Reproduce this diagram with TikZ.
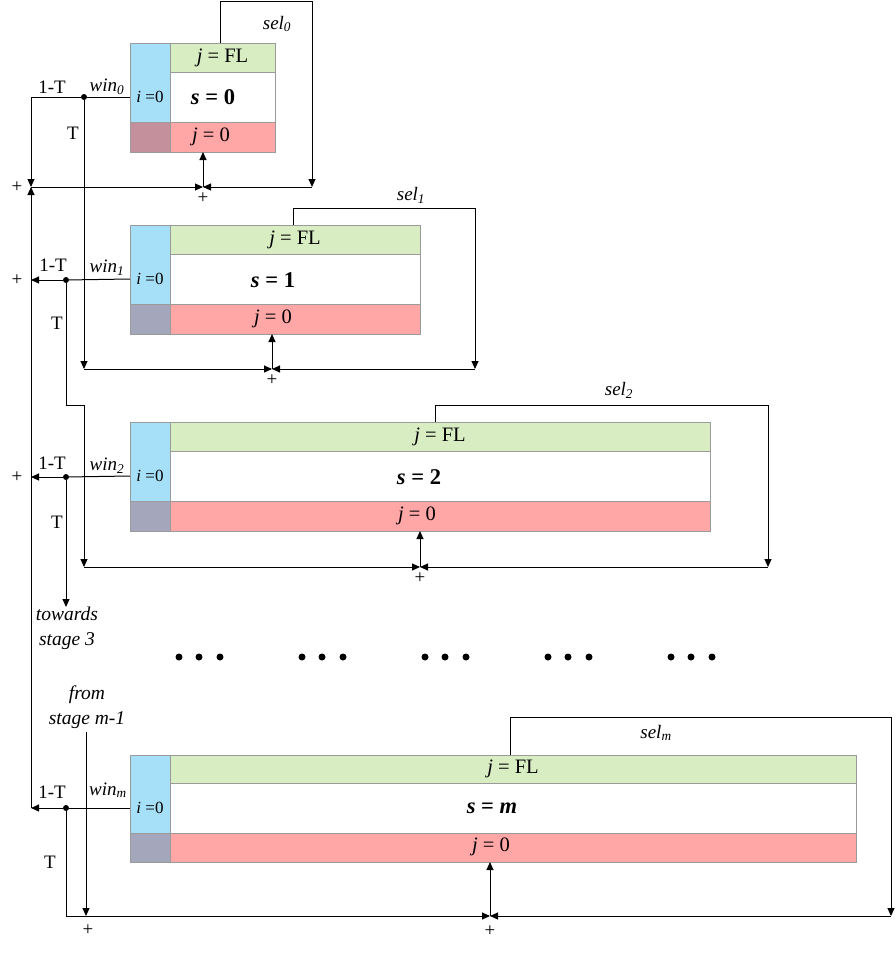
\documentclass[tikz,border=0pt]{standalone}
\usepackage{fontspec}
\setmainfont{Liberation Serif}
\usetikzlibrary{arrows.meta}
\definecolor{BlueClr}{RGB}{166,224,248}
\definecolor{GreenClr}{RGB}{216,237,194}
\definecolor{RedClr}{RGB}{255,166,166}
\definecolor{CornerClr}{RGB}{196,144,155}
\definecolor{GreyClr}{RGB}{164,166,188}
\definecolor{EdgeClr}{RGB}{155,155,155}

\begin{document}
\begin{tikzpicture}[x=1pt,y=-1pt,
  cell/.style={draw=EdgeClr,line width=0.8pt,inner sep=0pt,outer sep=0pt,anchor=north west,font=\fontsize{20.5}{22}\selectfont},
  wire/.style={line width=1pt},
  arr/.style={wire,-{Triangle[length=8pt,width=7pt]}},
  txt/.style={inner sep=0pt,font=\fontsize{19}{22}\selectfont},
  eq/.style={inner sep=0pt,font=\fontsize{20.5}{22}\selectfont},
  stg/.style={inner sep=0pt,font=\fontsize{22.5}{24}\selectfont\bfseries},
  idx/.style={inner sep=0pt,font=\fontsize{17}{20}\selectfont},
  pls/.style={inner sep=0pt,font=\fontsize{19}{20}\selectfont},
  knot/.style={circle,fill,inner sep=0pt,minimum size=6pt}]
\useasboundingbox (0,0) rectangle (896,953);

% stage 0
\node[cell,fill=BlueClr,minimum width=40,minimum height=79] (b0) at (130,43) {};
\node[cell,fill=CornerClr,minimum width=40,minimum height=30] (c0) at (b0.south west) {};
\node[cell,fill=GreenClr,minimum width=105,minimum height=29] (g0) at (b0.north east) {\textit{j} = FL};
\node[cell,fill=white,minimum width=105,minimum height=50] (w0) at (g0.south west) {};
\node[cell,fill=RedClr,minimum width=105,minimum height=30] (r0) at (w0.south west) {};
\node[idx] (i0) at (b0.center |- w0.center) {\textit{i} =0};
\node[stg] (s0) at (213,97) {\textit{s} = 0};
\node[eq] (z0) at (211,137) {\textit{j} = 0};

\coordinate (win0) at (b0.west |- w0.center);
\node[knot] (d0) at (84,97) {};
\coordinate (p0) at (31,187);
\coordinate (jn0) at (203,187);
\coordinate (q0) at (312,187);
\coordinate (t0) at (220,43);
\coordinate (p1) at (84,369);

\draw[wire] (win0) -- (d0);
\draw[arr] (d0) -| (p0);
\draw[arr] (d0) -- (p1);
\draw[arr] (t0) -- (220,1) -| (q0);
\draw[arr] (q0) -- (jn0);
\draw[arr] (p0) -- (jn0);
\draw[arr] (jn0) -- (r0.south -| jn0);

\node[txt] (n0) at (52,87) {1-T};
\node[txt] (v0) at (107,87) {\textit{win}\textsubscript{\textit{0}}};
\node[txt] (tt0) at (73,133) {T};
\node[txt] (l0) at (277,24) {\textit{sel}\textsubscript{\textit{0}}};
\node[pls] (a0) at (17,187) {+};
\node[pls] (e0) at (203,198) {+};

% stage 1
\node[cell,fill=BlueClr,minimum width=40,minimum height=79] (b1) at (130,225) {};
\node[cell,fill=GreyClr,minimum width=40,minimum height=30] (c1) at (b1.south west) {};
\node[cell,fill=GreenClr,minimum width=250,minimum height=29] (g1) at (b1.north east) {\textit{j} = FL};
\node[cell,fill=white,minimum width=250,minimum height=50] (w1) at (g1.south west) {};
\node[cell,fill=RedClr,minimum width=250,minimum height=30] (r1) at (w1.south west) {};
\node[idx] (i1) at (b1.center |- w1.center) {\textit{i} =0};
\node[stg] (s1) at (273,280) {\textit{s} = 1};
\node[eq] (z1) at (273,319) {\textit{j} = 0};

\coordinate (win1) at (b1.west |- w1.center);
\node[knot] (d1) at (66,280) {};
\coordinate (jn1) at (272,369);
\coordinate (q1) at (475,369);
\coordinate (t1) at (293,225);
\coordinate (p2) at (84,567);

\draw[wire] (win1) -- (d1);
\draw[arr] (d1) -- (d1 -| p0);
\draw[arr] (d1) -- (66,405) -- (84,405) -- (p2);
\draw[arr] (t1) -- (293,208) -| (q1);
\draw[arr] (q1) -- (jn1);
\draw[arr] (p1) -- (jn1);
\draw[arr] (jn1) -- (r1.south -| jn1);

\node[txt] (n1) at (53,265) {1-T};
\node[txt] (v1) at (107,268) {\textit{win}\textsubscript{\textit{1}}};
\node[txt] (tt1) at (57,323) {T};
\node[txt] (l1) at (411,195) {\textit{sel}\textsubscript{\textit{1}}};
\node[pls] (a1) at (17,280) {+};
\node[pls] (e1) at (272,380) {+};

% stage 2
\node[cell,fill=BlueClr,minimum width=40,minimum height=79] (b2) at (130,422) {};
\node[cell,fill=GreyClr,minimum width=40,minimum height=30] (c2) at (b2.south west) {};
\node[cell,fill=GreenClr,minimum width=540,minimum height=29] (g2) at (b2.north east) {\textit{j} = FL};
\node[cell,fill=white,minimum width=540,minimum height=50] (w2) at (g2.south west) {};
\node[cell,fill=RedClr,minimum width=540,minimum height=30] (r2) at (w2.south west) {};
\node[idx] (i2) at (b2.center |- w2.center) {\textit{i} =0};
\node[stg] (s2) at (419,477) {\textit{s} = 2};
\node[eq] (z2) at (417,516) {\textit{j} = 0};

\coordinate (win2) at (b2.west |- w2.center);
\node[knot] (d2) at (66,477) {};
\coordinate (jn2) at (420,567);
\coordinate (q2) at (768,567);
\coordinate (t2) at (435,422);
\coordinate (tw) at (66,607);

\draw[wire] (win2) -- (d2);
\draw[arr] (d2) -- (d2 -| p0);
\draw[arr] (d2) -- (tw);
\draw[arr] (t2) -- (435,405) -| (q2);
\draw[arr] (q2) -- (jn2);
\draw[arr] (p2) -- (jn2);
\draw[arr] (jn2) -- (r2.south -| jn2);

\node[txt] (n2) at (52,463) {1-T};
\node[txt] (v2) at (107,466) {\textit{win}\textsubscript{\textit{2}}};
\node[txt] (tt2) at (57,522) {T};
\node[txt] (l2) at (619,390) {\textit{sel}\textsubscript{\textit{2}}};
\node[pls] (a2) at (17,477) {+};
\node[pls] (e2) at (420,578) {+};
\node[txt,align=center,font=\fontsize{19.5}{25}\selectfont\itshape,anchor=north] (tw3) at (67,607) {towards\\stage 3};

\fill (179,657) circle (3.5) (199,657) circle (3.5) (220,657) circle (3.5)
      (302,657) circle (3.5) (322,657) circle (3.5) (343,657) circle (3.5)
      (425,657) circle (3.5) (445,657) circle (3.5) (466,657) circle (3.5)
      (548,657) circle (3.5) (568,657) circle (3.5) (589,657) circle (3.5)
      (671,657) circle (3.5) (691,657) circle (3.5) (712,657) circle (3.5);

% stage m
\node[cell,fill=BlueClr,minimum width=40,minimum height=78] (bm) at (130,755) {};
\node[cell,fill=GreyClr,minimum width=40,minimum height=29] (cm) at (bm.south west) {};
\node[cell,fill=GreenClr,minimum width=686,minimum height=28] (gm) at (bm.north east) {\textit{j} = FL};
\node[cell,fill=white,minimum width=686,minimum height=50] (wm) at (gm.south west) {};
\node[cell,fill=RedClr,minimum width=686,minimum height=29] (rm) at (wm.south west) {};
\node[idx] (im) at (bm.center |- wm.center) {\textit{i} =0};
\node[stg] (sm) at (492,808) {\textit{s} = \textit{m}};
\node[eq] (zm) at (491,847) {\textit{j} = 0};

\coordinate (winm) at (bm.west |- wm.center);
\node[knot] (dm) at (66,808) {};
\coordinate (lm) at (31,808);
\coordinate (jnm) at (490,916);
\coordinate (qm) at (891,916);
\coordinate (tm) at (510,755);
\coordinate (fm) at (86,732);
\coordinate (pm) at (86,916);

\draw[wire] (winm) -- (dm);
\draw[arr] (dm) -- (lm);
\draw[arr] (lm) -- (p0);
\draw[arr] (dm) |- (jnm);
\draw[arr] (fm) -- (pm);
\draw[arr] (tm) -- (510,717) -| (qm);
\draw[arr] (qm) -- (jnm);
\draw[arr] (jnm) -- (rm.south -| jnm);

\node[txt] (nm) at (52,792) {1-T};
\node[txt] (vm) at (108,790) {\textit{win}\textsubscript{\textit{m}}};
\node[txt] (ttm) at (50,862) {T};
\node[txt] (lm2) at (656,733) {\textit{sel}\textsubscript{\textit{m}}};
\node[pls] (am) at (88,930) {+};
\node[pls] (em) at (490,931) {+};
\node[txt,align=center,font=\fontsize{19.5}{25}\selectfont\itshape,anchor=south] (fs) at (87,729) {from\\stage m-1};

\end{tikzpicture}
\end{document}
